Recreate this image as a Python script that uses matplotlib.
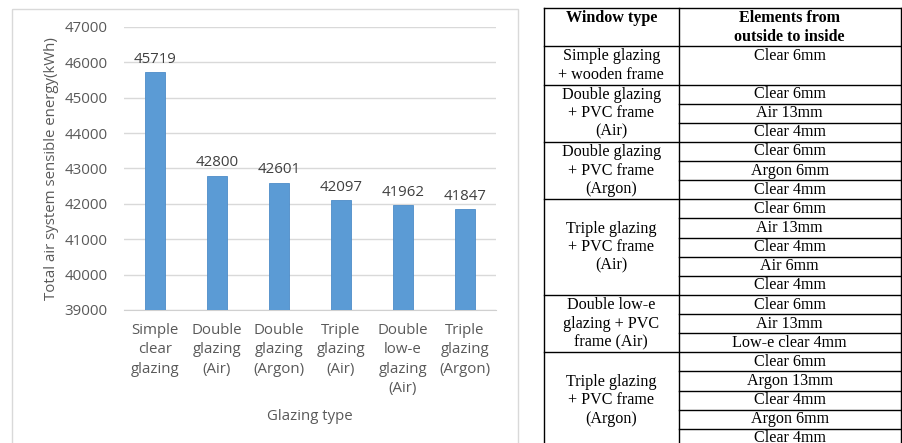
import matplotlib
matplotlib.use("Agg")
import matplotlib.pyplot as plt
from matplotlib.patches import Rectangle

# bar chart data
categories = ["Simple\nclear\nglazing", "Double\nglazing\n(Air)", "Double\nglazing\n(Argon)",
              "Triple\nglazing\n(Air)", "Double\nlow-e\nglazing\n(Air)", "Triple\nglazing\n(Argon)"]
energy = [45719, 42800, 42601, 42097, 41962, 41847]
yticks = [39000, 40000, 41000, 42000, 43000, 44000, 45000, 46000, 47000]

# table data
header = ["Window type", "Elements from\noutside to inside"]
window_types = ["Simple glazing\n+ wooden frame",
                "Double glazing\n+ PVC frame\n(Air)",
                "Double glazing\n+ PVC frame\n(Argon)",
                "Triple glazing\n+ PVC frame\n(Air)",
                "Double low-e\nglazing + PVC\nframe (Air)",
                "Triple glazing\n+ PVC frame\n(Argon)"]
elements = [["Clear 6mm"],
            ["Clear 6mm", "Air 13mm", "Clear 4mm"],
            ["Clear 6mm", "Argon 6mm", "Clear 4mm"],
            ["Clear 6mm", "Air 13mm", "Clear 4mm", "Air 6mm", "Clear 4mm"],
            ["Clear 6mm", "Air 13mm", "Low-e clear 4mm"],
            ["Clear 6mm", "Argon 13mm", "Clear 4mm", "Argon 6mm", "Clear 4mm"]]

W, H = 902, 443
fig = plt.figure(figsize=(W / 100, H / 100), dpi=100)
fig.patch.set_facecolor("white")

# overlay in pixel coordinates for the chart frame and the table
ov = fig.add_axes([0, 0, 1, 1])
ov.set_xlim(0, W)
ov.set_ylim(H, 0)
ov.axis("off")
ov.add_patch(Rectangle((11.7, 9), 506, 450, fill=False, edgecolor="#d9d9d9", lw=1.0))

# ---- bar chart ----
chart_font = "Open Sans"
grey = "#595959"
fs = 10.8
ax = fig.add_axes([124 / W, 1 - 310 / H, 372 / W, 283 / H])
x = range(len(categories))
bars = ax.bar(x, energy, width=0.32, color="#5b9bd5", edgecolor="#4d8cc8", lw=0.6, zorder=3)
ax.set_xlim(-0.5, len(categories) - 0.5)
ax.set_ylim(yticks[0], yticks[-1])
ax.set_yticks(yticks)
ax.set_yticklabels([str(t) for t in yticks], fontfamily=chart_font, fontsize=fs, color=grey)
ax.set_xticks(list(x))
ax.set_xticklabels(categories, fontfamily=chart_font, fontsize=fs, color=grey, linespacing=1.42)
ax.tick_params(axis="both", length=0)
ax.tick_params(axis="y", pad=12)
ax.tick_params(axis="x", pad=9)
ax.grid(axis="y", color="#d9d9d9", lw=1.0, zorder=0)
for s in ["top", "right", "left"]:
    ax.spines[s].set_visible(False)
ax.spines["bottom"].set_color("#d0d0d0")
ax.set_facecolor("none")

for b, v in zip(bars, energy):
    ax.annotate(str(v), (b.get_x() + b.get_width() / 2, v), xytext=(0, 4),
                textcoords="offset points", ha="center", va="bottom",
                fontfamily=chart_font, fontsize=fs, color="#404040")

ax.set_ylabel("Total air system sensible energy(kWh)", fontfamily=chart_font, fontsize=fs, color=grey)
ax.yaxis.set_label_coords(-0.176, 0.5)
ax.set_xlabel("Glazing type", fontfamily=chart_font, fontsize=fs, color=grey)
ax.xaxis.set_label_coords(0.5, -0.35)

# ---- table ----
tfont = "Liberation Serif"
tsize = 11.6
x_left, x_mid, x_right = 543.5, 679, 900.5
top = 8
unit = 19.13
line_step = 18.5
lw = 1.0

# header row
ov.text((x_left + x_mid) / 2, top + unit * 0.5, header[0], ha="center", va="center",
        fontfamily=tfont, fontsize=tsize, fontweight="bold")
for i, line in enumerate(header[1].split("\n")):
    ov.text((x_mid + x_right) / 2, top + unit * (i + 0.5), line, ha="center", va="center",
            fontfamily=tfont, fontsize=tsize, fontweight="bold")

ov.plot([x_left, x_right], [top, top], color="black", lw=lw)
y = top + 2 * unit
ov.plot([x_left, x_right], [y, y], color="black", lw=lw)

for label, elems in zip(window_types, elements):
    lines = label.split("\n")
    n = max(len(lines), len(elems))
    y0, y1 = y, y + n * unit
    yc = (y0 + y1) / 2
    for i, line in enumerate(lines):
        ov.text((x_left + x_mid) / 2, yc + (i - (len(lines) - 1) / 2) * line_step, line,
                ha="center", va="center", fontfamily=tfont, fontsize=tsize)
    for i, e in enumerate(elems):
        ov.text((x_mid + x_right) / 2, y0 + unit * (i + 0.5), e, ha="center", va="center",
                fontfamily=tfont, fontsize=tsize)
        if 0 < i:
            ov.plot([x_mid, x_right], [y0 + unit * i, y0 + unit * i], color="black", lw=lw)
    ov.plot([x_left, x_right], [y1, y1], color="black", lw=lw)
    y = y1

for xv in [x_left, x_mid, x_right]:
    ov.plot([xv, xv], [top, H + 5], color="black", lw=lw)

fig.savefig("out.png", dpi=100)
